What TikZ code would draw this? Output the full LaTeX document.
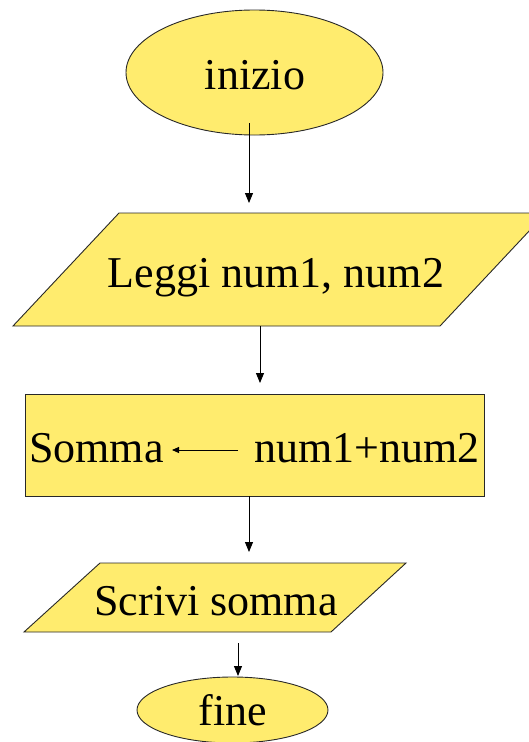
\documentclass[tikz,border=0pt]{standalone}
\usepackage{fontspec}
\setmainfont{Liberation Serif}
\usetikzlibrary{arrows.meta,shapes.geometric}
\definecolor{flowyellow}{RGB}{255,236,110}
\definecolor{edgegray}{RGB}{40,40,40}
\tikzset{
  shapefill/.style={fill=flowyellow,draw=edgegray,line width=0.9pt},
  label44/.style={inner sep=0pt,anchor=base,font=\fontsize{44}{48}\selectfont},
  flowarrow/.style={line width=0.9pt,-{Triangle[length=10pt,width=8pt]}},
  smallarrow/.style={line width=0.9pt,-{Triangle[length=7pt,width=6pt]}}
}
\begin{document}
\begin{tikzpicture}[x=1pt,y=-1pt]
\clip (0,0) rectangle (529,742);
\fill[white] (0,0) rectangle (529,742);
% shapes
\node[ellipse,shapefill,minimum width=257pt,minimum height=125pt,inner sep=0pt] (inizioshape) at (254.5,72.5) {};
\path[shapefill] (119,213) -- (546,213) -- (440,326) -- (13,326) -- cycle;
\path[shapefill] (25,394) rectangle (484,496);
\path[shapefill] (100,563) -- (406,563) -- (331,632) -- (24,632) -- cycle;
\node[ellipse,shapefill,minimum width=191pt,minimum height=66pt,inner sep=0pt] (fineshape) at (232.5,710) {};
% texts
\node[label44] (inizio) at (255,89) {inizio};
\node[label44] (leggi) at (276,287) {Leggi num1, num2};
\node[label44,anchor=base west] (somma) at (29,462) {Somma};
\node[label44,anchor=base east] (expr) at (480,462) {num1+num2};
\node[label44] (scrivi) at (216,615) {Scrivi somma};
\node[label44] (fine) at (233,725) {fine};
% connector endpoints
\coordinate (a1s) at (249,123);
\coordinate (a1e) at (249,203);
\coordinate (a2s) at (260,326);
\coordinate (a2e) at (260,383);
\coordinate (a3s) at (249,496);
\coordinate (a3e) at (249,552);
\coordinate (a4s) at (238,643);
\coordinate (a4e) at (238,676);
\coordinate (asgs) at (238,450);
\coordinate (asge) at (172,450);
% connectors
\draw[flowarrow] (a1s) -- (a1e);
\draw[flowarrow] (a2s) -- (a2e);
\draw[flowarrow] (a3s) -- (a3e);
\draw[flowarrow] (a4s) -- (a4e);
\draw[smallarrow] (asgs) -- (asge);
\end{tikzpicture}
\end{document}
